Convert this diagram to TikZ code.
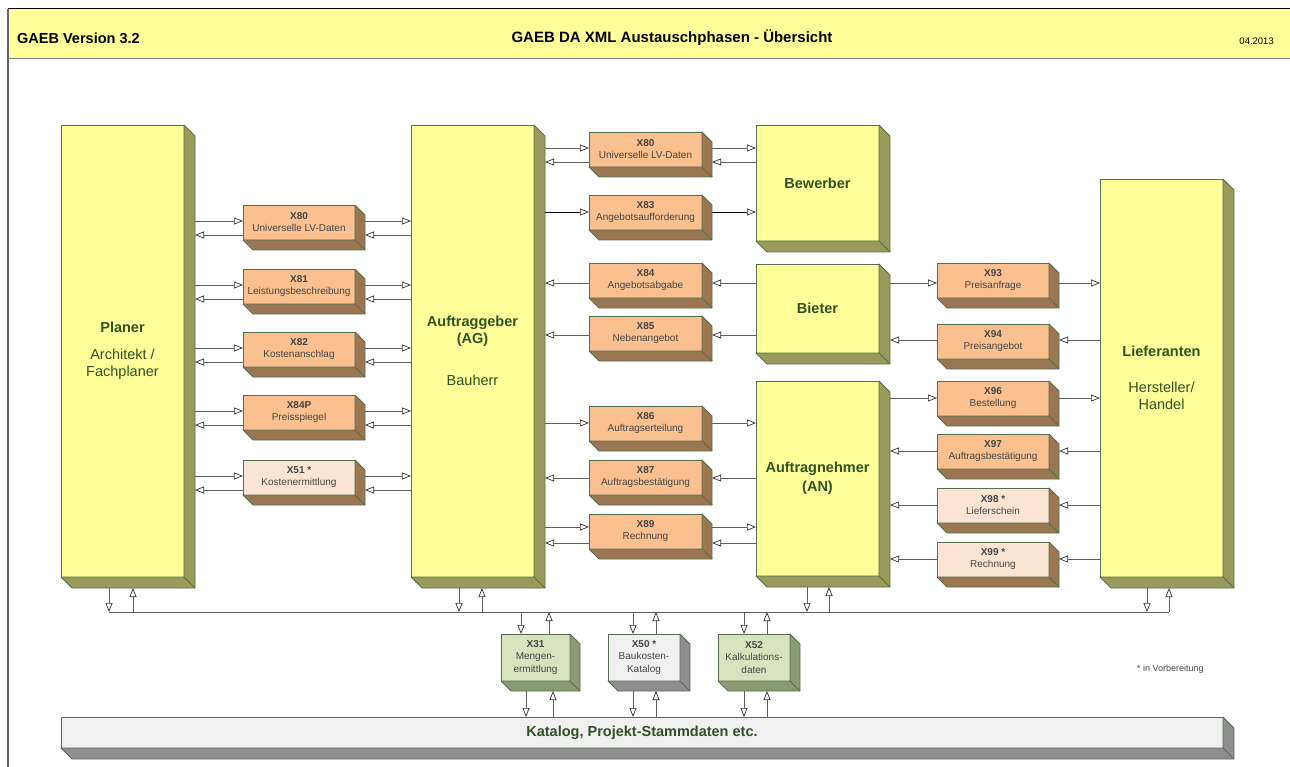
\documentclass[tikz,border=0pt]{standalone}
\usepackage{fontspec}
\setmainfont{Liberation Sans}
\usetikzlibrary{arrows.meta,calc}
\definecolor{hdr}{HTML}{FFFF99}
\definecolor{yelF}{HTML}{FFFF99}
\definecolor{yelS}{HTML}{9A9A5C}
\definecolor{orF}{HTML}{FAC08F}
\definecolor{ltF}{HTML}{FCE4D2}
\definecolor{brS}{HTML}{9B7653}
\definecolor{grF}{HTML}{D7E4BD}
\definecolor{grS}{HTML}{8A9A72}
\definecolor{gyF}{HTML}{F0F0F0}
\definecolor{gyS}{HTML}{8F8F8F}
\definecolor{bordc}{HTML}{56704F}
\definecolor{txtg}{HTML}{2F5224}
\definecolor{txts}{HTML}{454545}
\definecolor{lnc}{HTML}{5F5F5F}
\newcommand\tdbox[9]{%
  \node[#7, draw=bordc, line width=0.8pt, anchor=north west, inner sep=0pt, outer sep=0pt,
        align=center, minimum width={(#4-#2)*1pt}, minimum height={(#5-#3)*1pt}] (#1) at (#2,#3) {#9};
  \filldraw[draw=bordc, line width=0.8pt, fill=#8, line join=round]
     (#1.north east) -- ++(#6,#6) -- ([shift={(#6,#6)}]#1.south east)
     -- ([shift={(#6,#6)}]#1.south west) -- (#1.south west) -- (#1.south east) -- cycle;
  \draw[draw=bordc, line width=0.8pt] (#1.south east) -- ++(#6,#6);
  \coordinate (#1-r) at ([shift={(#6,0)}]#1.north east);
  \coordinate (#1-b) at ([shift={(0,#6)}]#1.south west);
}
\begin{document}
\begin{tikzpicture}[x=1pt,y=-1pt,
  bigF/.style={fill=yelF, text=txtg, font=\fontsize{14.5}{17}\selectfont},
  smF/.style={fill=orF, text=txts, font=\fontsize{10}{12}\selectfont},
  ltB/.style={fill=ltF, text=txts, font=\fontsize{10}{12}\selectfont},
  grB/.style={fill=grF, text=txts, font=\fontsize{10}{12.5}\selectfont},
  gyB/.style={fill=gyF, text=txts, font=\fontsize{10}{12.5}\selectfont},
  katB/.style={fill=gyF, text=txtg, font=\fontsize{14.5}{17}\selectfont\bfseries},
  arr/.style={draw=lnc, line width=0.8pt, -{Triangle[color=black!80, fill=white, length=9pt, width=7pt, line width=0.7pt]}},
  arrd/.style={arr, draw=black},
  busl/.style={draw=lnc, line width=0.8pt}]
\useasboundingbox (0,0) rectangle (1290,767);
% header
\fill[hdr] (8,9) rectangle (1290,59);
\draw[black, line width=1pt] (8,9) -- (1290,9);
\draw[gray, line width=1pt] (8,59) -- (1290,59);
\draw[gray!80!black, line width=1.2pt] (8,9) -- (8,767);
\node[anchor=west, inner sep=0pt, font=\fontsize{14.5}{17}\selectfont\bfseries] (hl) at (17,38) {GAEB Version 3.2};
\node[font=\fontsize{15}{17}\selectfont\bfseries] (ht) at (672,38) {GAEB DA XML Austauschphasen - Übersicht};
\node[anchor=east, inner sep=0pt, font=\fontsize{9.5}{11}\selectfont] (hd) at (1274,41) {04.2013};
% big boxes
\tdbox{planer}{61}{125}{184}{577}{11}{bigF}{yelS}{\textbf{Planer}\\[10pt]Architekt /\\Fachplaner}
\tdbox{ag}{411}{125}{534}{577}{11}{bigF}{yelS}{\textbf{Auftraggeber}\\\textbf{(AG)}\\[25pt]Bauherr}
\tdbox{bew}{756}{125}{879}{241}{11}{bigF}{yelS}{\textbf{Bewerber}}
\tdbox{bie}{756}{264}{879}{353}{11}{bigF}{yelS}{\textbf{Bieter}}
\tdbox{an}{756}{381}{879}{576}{11}{bigF}{yelS}{\textbf{Auftragnehmer}\\[2pt]\textbf{(AN)}}
\tdbox{lief}{1100}{179}{1223}{577}{11}{bigF}{yelS}{\textbf{Lieferanten}\\[19pt]Hersteller/\\Handel}
% left column
\tdbox{la}{243}{205}{355}{240}{10}{smF}{brS}{\textbf{X80}\\Universelle LV-Daten}
\tdbox{lb}{243}{269}{355}{304}{10}{smF}{brS}{\textbf{X81}\\Leistungsbeschreibung}
\tdbox{lc}{243}{332}{355}{367}{10}{smF}{brS}{\textbf{X82}\\Kostenanschlag}
\tdbox{ld}{243}{395}{355}{430}{10}{smF}{brS}{\textbf{X84P}\\Preisspiegel}
\tdbox{le}{243}{460}{355}{495}{10}{ltB}{brS}{\textbf{X51 *}\\Kostenermittlung}
% middle column
\tdbox{ma}{589}{132}{702}{167}{10}{smF}{brS}{\textbf{X80}\\Universelle LV-Daten}
\tdbox{mb}{589}{195}{702}{230}{10}{smF}{brS}{\textbf{X83}\\Angebotsaufforderung}
\tdbox{mc}{589}{263}{702}{298}{10}{smF}{brS}{\textbf{X84}\\Angebotsabgabe}
\tdbox{md}{589}{316}{702}{351}{10}{smF}{brS}{\textbf{X85}\\Nebenangebot}
\tdbox{me}{589}{406}{702}{441}{10}{smF}{brS}{\textbf{X86}\\Auftragserteilung}
\tdbox{mf}{589}{460}{702}{495}{10}{smF}{brS}{\textbf{X87}\\Auftragsbestätigung}
\tdbox{mg}{589}{514}{702}{549}{10}{smF}{brS}{\textbf{X89}\\Rechnung}
% right column
\tdbox{ra}{937}{263}{1049}{298}{10}{smF}{brS}{\textbf{X93}\\Preisanfrage}
\tdbox{rb}{937}{324}{1049}{359}{10}{smF}{brS}{\textbf{X94}\\Preisangebot}
\tdbox{rc}{937}{381}{1049}{416}{10}{smF}{brS}{\textbf{X96}\\Bestellung}
\tdbox{rd}{937}{434}{1049}{469}{10}{smF}{brS}{\textbf{X97}\\Auftragsbestätigung}
\tdbox{re}{937}{488}{1049}{523}{10}{ltB}{brS}{\textbf{X98 *}\\Lieferschein}
\tdbox{rf}{937}{542}{1049}{577}{10}{ltB}{brS}{\textbf{X99 *}\\Rechnung}
% bottom
\tdbox{ga}{501}{634}{570}{681}{10}{grB}{grS}{\textbf{X31}\\Mengen-\\ermittlung}
\tdbox{gb}{608}{634}{680}{681}{10}{gyB}{gyS}{\textbf{X50 *}\\Baukosten-\\Katalog}
\tdbox{gc}{718}{634}{790}{681}{10}{grB}{grS}{\textbf{X52}\\Kalkulations-\\daten}
\tdbox{kat}{61}{717}{1223}{748}{11}{katB}{gyS}{Katalog, Projekt-Stammdaten etc.}
\node[anchor=west, inner sep=0pt, text=txts, font=\fontsize{9}{11}\selectfont] (leg) at (1137,669) {* in Vorbereitung};
% left column arrows
\foreach \b/\t in {la/205,lb/269,lc/332,ld/395,le/460}{
  \draw[arr] (planer-r |- 0,\t+16) -- (\b.west |- 0,\t+16);
  \draw[arr] (\b.west |- 0,\t+30) -- (planer-r |- 0,\t+30);
  \draw[arr] (\b-r |- 0,\t+16) -- (ag.west |- 0,\t+16);
  \draw[arr] (ag.west |- 0,\t+30) -- (\b-r |- 0,\t+30);
}
% middle arrows
\draw[arr] (ag-r |- 0,148) -- (ma.west |- 0,148);
\draw[arr] (ma.west |- 0,162) -- (ag-r |- 0,162);
\draw[arr] (ma-r |- 0,148) -- (bew.west |- 0,148);
\draw[arr] (bew.west |- 0,162) -- (ma-r |- 0,162);
\draw[arrd] (ag-r |- 0,212) -- (mb.west |- 0,212);
\draw[arrd] (mb-r |- 0,212) -- (bew.west |- 0,212);
\draw[arr] (mc.west |- 0,283) -- (ag-r |- 0,283);
\draw[arr] (bie.west |- 0,283) -- (mc-r |- 0,283);
\draw[arr] (md.west |- 0,335) -- (ag-r |- 0,335);
\draw[arr] (bie.west |- 0,335) -- (md-r |- 0,335);
\draw[arr] (ag-r |- 0,423) -- (me.west |- 0,423);
\draw[arr] (me-r |- 0,423) -- (an.west |- 0,423);
\draw[arr] (mf.west |- 0,478) -- (ag-r |- 0,478);
\draw[arr] (an.west |- 0,478) -- (mf-r |- 0,478);
\draw[arr] (ag-r |- 0,527) -- (mg.west |- 0,527);
\draw[arr] (mg-r |- 0,527) -- (an.west |- 0,527);
\draw[arr] (mg.west |- 0,543) -- (ag-r |- 0,543);
\draw[arr] (an.west |- 0,543) -- (mg-r |- 0,543);
% right arrows
\draw[arr] (bie-r |- 0,283) -- (ra.west |- 0,283);
\draw[arr] (ra-r |- 0,283) -- (lief.west |- 0,283);
\draw[arr] (lief.west |- 0,340) -- (rb-r |- 0,340);
\draw[arr] (rb.west |- 0,340) -- (bie-r |- 0,340);
\draw[arr] (an-r |- 0,398) -- (rc.west |- 0,398);
\draw[arr] (rc-r |- 0,398) -- (lief.west |- 0,398);
\foreach \b/\y in {rd/451,re/505,rf/559}{
  \draw[arr] (lief.west |- 0,\y) -- (\b-r |- 0,\y);
  \draw[arr] (\b.west |- 0,\y) -- (an-r |- 0,\y);
}
% bus
\coordinate (busL) at (109,612);
\coordinate (busR) at (1169,612);
\draw[busl] (busL) -- (busR);
\foreach \bx/\dx/\ux in {planer/109/133, ag/459/482, an/807/829, lief/1147/1169}{
  \draw[arr] (\dx,0 |- \bx-b) -- (\dx,0 |- busL);
  \draw[arr] (\ux,0 |- busL) -- (\ux,0 |- \bx-b);
}
\foreach \g/\dx/\ux/\da/\ua in {ga/521/549/526/553, gb/633/656/633/656, gc/744/767/744/767}{
  \draw[arr] (\dx,0 |- busL) -- (\dx,0 |- \g.north);
  \draw[arr] (\ux,0 |- \g.north) -- (\ux,0 |- busL);
  \draw[arr] (\da,0 |- \g-b) -- (\da,0 |- kat.north);
  \draw[arr] (\ua,0 |- kat.north) -- (\ua,0 |- \g-b);
}
\end{tikzpicture}
\end{document}
